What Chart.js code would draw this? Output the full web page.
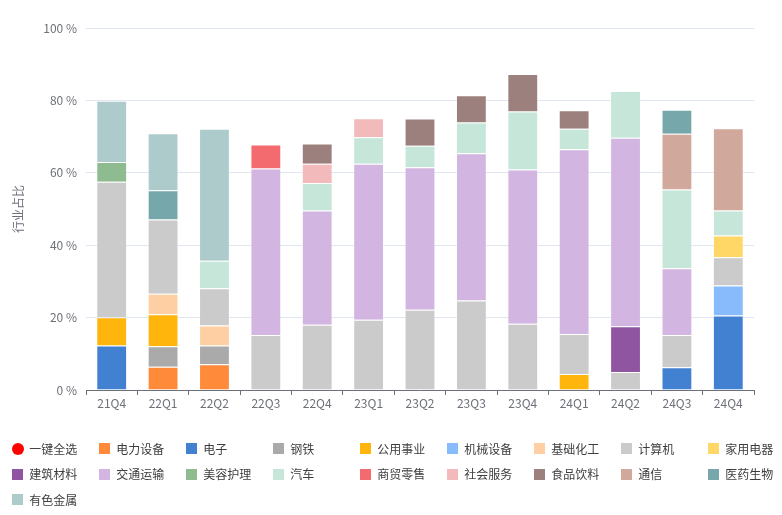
<!DOCTYPE html>
<html>
<head>
<meta charset="utf-8">
<script src="https://cdn.jsdelivr.net/npm/chart.js@4.4.0/dist/chart.umd.min.js"></script>
<style>
  html, body { margin: 0; padding: 0; background: #fff; overflow: hidden; }
  #wrap { position: relative; width: 782px; height: 515px; }
  #box { position: absolute; left: 0; top: 0; width: 782px; height: 420px; }
  #legend { position: absolute; left: 0; top: 0; width: 782px; height: 515px; pointer-events: none; }
  .item { position: absolute; height: 14px; font: 12px "Microsoft YaHei", "Noto Sans CJK SC", sans-serif;
          color: #3d3d3d; white-space: nowrap; cursor: pointer; pointer-events: auto; line-height: 14px; }
  .item i { position: absolute; left: 0; top: 1.5px; width: 11px; height: 11px; }
  .item i.dot { width: 12px; height: 12px; top: 1px; border-radius: 50%; }
  .item span { position: absolute; left: 17.5px; top: 0; }
  .item.off { color: #ccc; }
  .item.off i { background: #ccc !important; }
</style>
</head>
<body>
<div id="wrap">
  <div id="box"><canvas id="myChart"></canvas></div>
  <div id="legend"></div>
</div>
<script>
var quarters = ["21Q4", "22Q1", "22Q2", "22Q3", "22Q4", "23Q1", "23Q2", "23Q3", "23Q4", "24Q1", "24Q2", "24Q3", "24Q4"];
var yTicks = [0, 20, 40, 60, 80, 100];

// industry share per quarter (%), null = not in list
var dianli   = [null, 6.4, 7.1, null, null, null, null, null, null, null, null, null, null];
var dianzi   = [12.3, null, null, null, null, null, null, null, null, null, null, 6.3, 20.6];
var gangtie  = [null, 5.7, 5.2, null, null, null, null, null, null, null, null, null, null];
var gongyong = [7.8, 8.8, null, null, null, null, null, null, null, 4.4, null, null, null];
var jixie    = [null, null, null, null, null, null, null, null, null, null, null, null, 8.3];
var jichu    = [null, 5.7, 5.5, null, null, null, null, null, null, null, null, null, null];
var jisuanji = [37.4, 20.5, 10.3, 15.2, 18.0, 19.4, 22.2, 24.7, 18.3, 11.1, 5.0, 8.9, 7.8];
var jiadian  = [null, null, null, null, null, null, null, null, null, null, null, null, 6.0];
var jiancai  = [null, null, null, null, null, null, null, null, null, null, 12.6, null, null];
var jiaotong = [null, null, null, 46.0, 31.6, 43.1, 39.3, 40.7, 42.6, 51.0, 52.1, 18.4, null];
var meirong  = [5.5, null, null, null, null, null, null, null, null, null, null, null, null];
var qiche    = [null, null, 7.6, null, 7.6, 7.3, 6.0, 8.5, 16.0, 5.7, 12.9, 21.8, 6.9];
var shangmao = [null, null, null, 6.6, null, null, null, null, null, null, null, null, null];
var shehui   = [null, null, null, null, 5.3, 5.3, null, null, null, null, null, null, null];
var shipin   = [null, null, null, null, 5.6, null, 7.5, 7.5, 10.4, 5.1, null, null, null];
var tongxin  = [null, null, null, null, null, null, null, null, null, null, null, 15.4, 22.7];
var yiyao    = [null, 8.1, null, null, null, null, null, null, null, null, null, 6.6, null];
var youse    = [16.9, 15.7, 36.5, null, null, null, null, null, null, null, null, null, null];

var series = [
  ["电力设备", dianli, "#FF8A3A"],
  ["电子", dianzi, "#4281D1"],
  ["钢铁", gangtie, "#AAAAAA"],
  ["公用事业", gongyong, "#FFB50C"],
  ["机械设备", jixie, "#88BBFC"],
  ["基础化工", jichu, "#FFCFA4"],
  ["计算机", jisuanji, "#CBCBCB"],
  ["家用电器", jiadian, "#FFD766"],
  ["建筑材料", jiancai, "#8F55A0"],
  ["交通运输", jiaotong, "#D2B6E1"],
  ["美容护理", meirong, "#8FBB91"],
  ["汽车", qiche, "#C5E6D9"],
  ["商贸零售", shangmao, "#F36A6F"],
  ["社会服务", shehui, "#F2BABA"],
  ["食品饮料", shipin, "#9B807D"],
  ["通信", tongxin, "#D0A99C"],
  ["医药生物", yiyao, "#76A8AB"],
  ["有色金属", youse, "#AECBCC"]
];

var fontFamily = '"Microsoft YaHei", "Noto Sans CJK SC", sans-serif';
Chart.defaults.font.family = fontFamily;
Chart.defaults.font.size = 12;

var ctx = document.getElementById("myChart").getContext("2d");
var myChart = new Chart(ctx, {
  type: "bar",
  data: {
    labels: quarters,
    datasets: series.map(function (s) {
      return {
        label: s[0],
        data: s[1],
        backgroundColor: s[2],
        borderColor: "rgba(255,255,255,0.35)",
        borderWidth: 1,
        categoryPercentage: 1,
        barPercentage: 0.6
      };
    })
  },
  options: {
    responsive: true,
    maintainAspectRatio: false,
    animation: false,
    layout: { padding: { left: 7, top: 28, right: 28, bottom: 0 } },
    plugins: {
      legend: { display: false },
      tooltip: {
        callbacks: { label: function (c) { return c.dataset.label + ": " + c.raw + " %"; } }
      }
    },
    scales: {
      x: {
        stacked: true,
        grid: { drawOnChartArea: false, drawTicks: true, tickLength: 5, color: "#6E7079" },
        border: { display: true, color: "#6E7079" },
        ticks: { color: "#6E7079", padding: 1, font: { size: 12 } },
        afterFit: function (scale) { scale.height = 30; }
      },
      y: {
        stacked: true,
        min: yTicks[0],
        max: yTicks[yTicks.length - 1],
        grid: { color: "#E0E6F1", drawTicks: false },
        border: { display: false },
        afterBuildTicks: function (scale) {
          scale.ticks = yTicks.map(function (v) { return { value: v }; });
        },
        ticks: {
          color: "#6E7079",
          padding: 9,
          font: { size: 12 },
          callback: function (v) { return v + " %"; }
        },
        title: { display: true, text: "行业占比", color: "#6E7079", font: { size: 12 } },
        afterFit: function (scale) { scale.width = 79; }
      }
    }
  }
});

// legend laid out in fixed columns below the chart
var legend = document.getElementById("legend");
var colX = 11.7, colW = 87, rowY = 441.5, rowH = 25.5;
var entries = [{ name: "一键全选", color: "#FF0000", all: true }].concat(series.map(function (s, i) {
  return { name: s[0], color: s[2], index: i };
}));
entries.forEach(function (e, n) {
  var el = document.createElement("div");
  el.className = "item";
  el.style.left = (colX + (n % 9) * colW) + "px";
  el.style.top = (rowY + Math.floor(n / 9) * rowH) + "px";
  el.innerHTML = '<i class="' + (e.all ? "dot" : "") + '" style="background:' + e.color + '"></i><span>' + e.name + "</span>";
  el.onclick = function () {
    if (e.all) {
      myChart.data.datasets.forEach(function (d, i) { myChart.setDatasetVisibility(i, true); });
      legend.querySelectorAll(".item").forEach(function (x) { x.classList.remove("off"); });
    } else {
      var vis = !myChart.isDatasetVisible(e.index);
      myChart.setDatasetVisibility(e.index, vis);
      el.classList.toggle("off", !vis);
    }
    myChart.update();
  };
  legend.appendChild(el);
});
</script>
</body>
</html>
